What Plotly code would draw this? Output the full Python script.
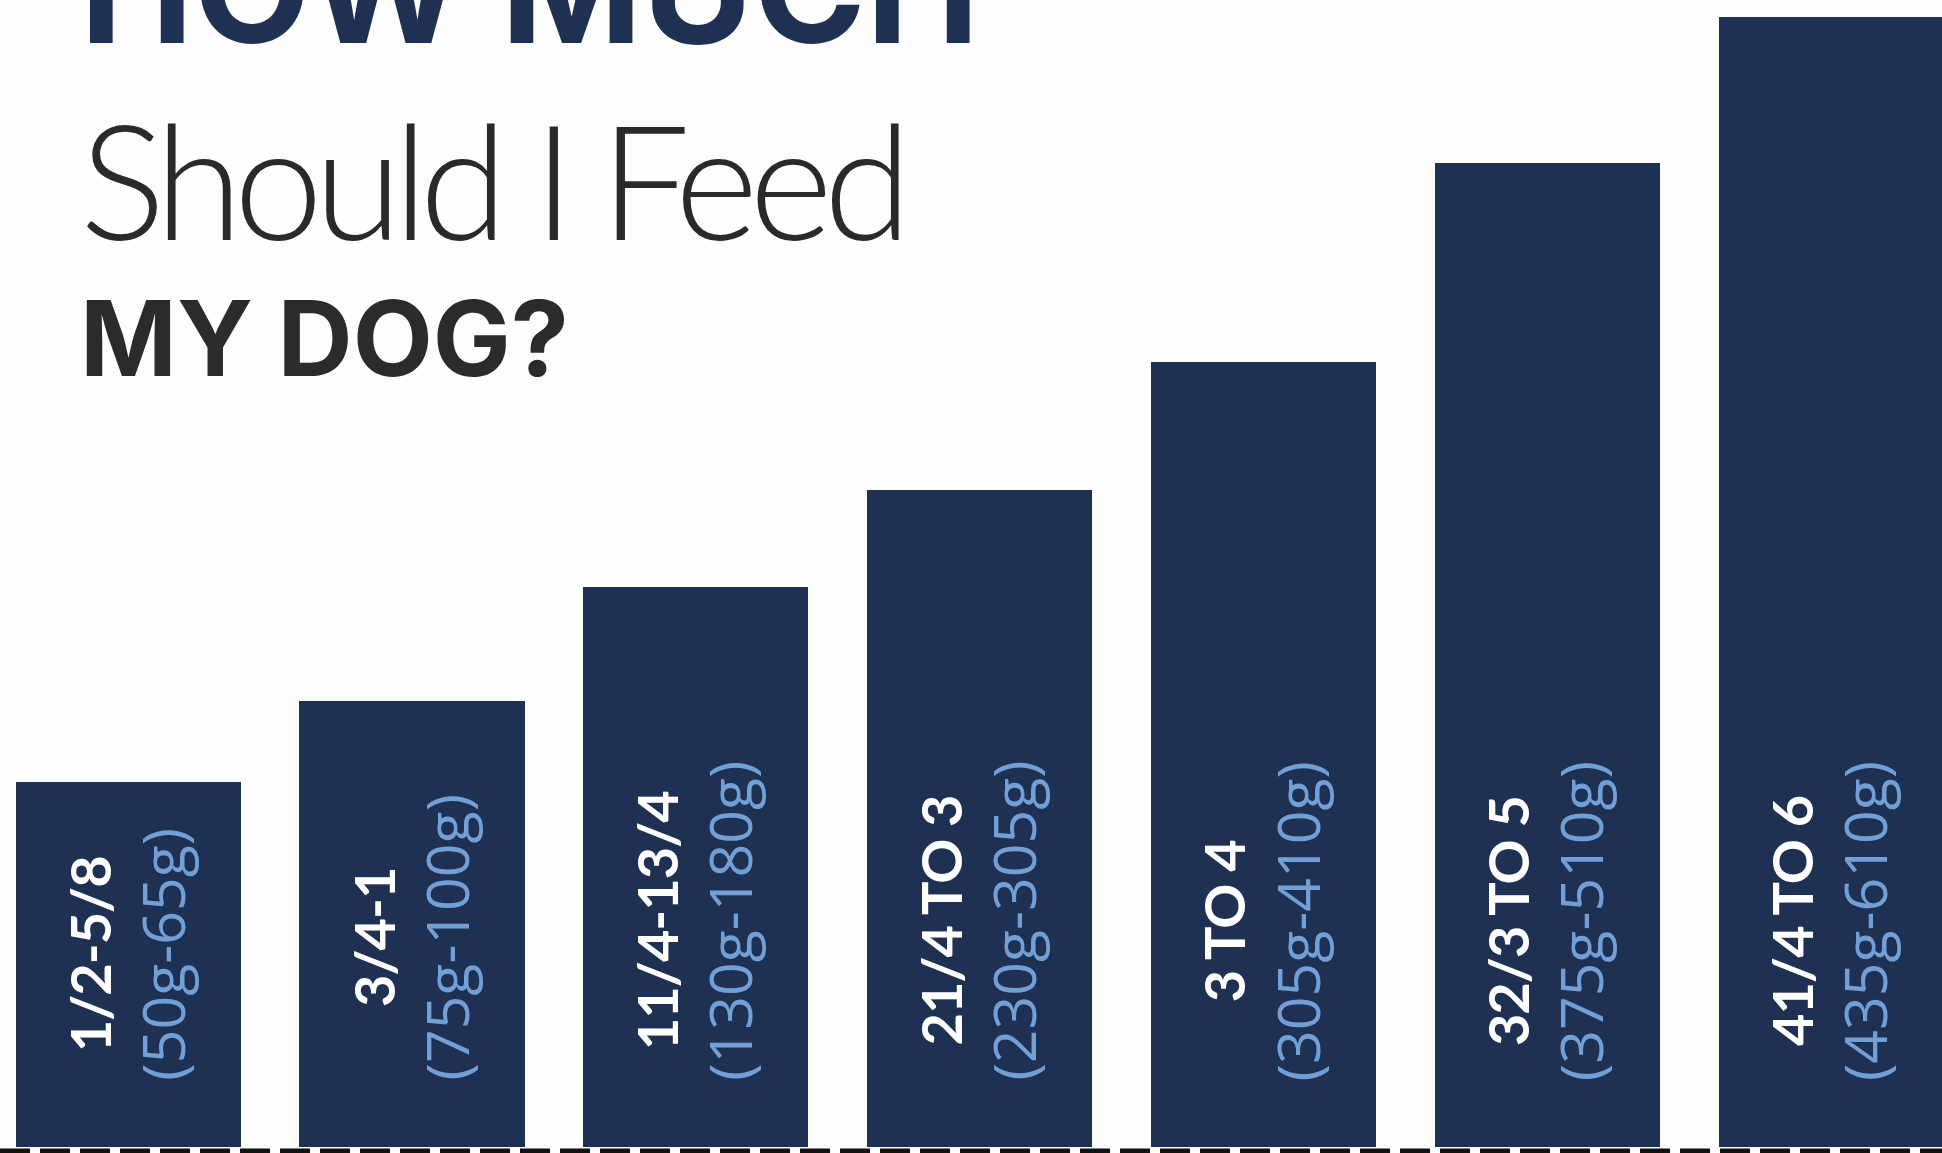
import plotly.graph_objects as go

# ---- data ----
cups = ["1/2-5/8", "3/4-1", "11/4-13/4", "21/4 TO 3", "3 TO 4", "32/3 TO 5", "41/4 TO 6"]
grams = ["(50g-65g)", "(75g-100g)", "(130g-180g)", "(230g-305g)",
         "(305g-410g)", "(375g-510g)", "(435g-610g)"]
bar_heights = [365, 446, 560, 657, 785, 984, 1130]  # relative bar heights

NAVY = "#1e3153"
LIGHT_BLUE = "#72a0d6"
W, H = 1942, 1153
B_MARGIN = 6
PLOT_H = H - B_MARGIN

xs = list(range(len(cups)))

fig = go.Figure()
fig.add_trace(go.Bar(
    x=xs, y=bar_heights, width=0.793,
    marker=dict(color=NAVY, line=dict(width=0)),
    hoverinfo="skip", showlegend=False,
))

# labels inside the bars (rotated)
for x, c, g in zip(xs, cups, grams):
    fig.add_annotation(
        x=x, y=64, xref="x", yref="y",
        text=(f"<span style='font-family:Lato;font-size:56px;font-weight:900;color:#ffffff;letter-spacing:-1px'><b>{c}</b></span>"
              f"<br><span style='font-family:Open Sans;font-size:59px;color:{LIGHT_BLUE}'>{g}</span>"),
        textangle=-90, xanchor="center", yanchor="bottom",
        showarrow=False, align="center",
        font=dict(family="Open Sans", size=57, color=LIGHT_BLUE),
    )

def py(p):
    return (PLOT_H - p) / PLOT_H

# title block
fig.add_annotation(x=78 / W, y=py(82), xref="paper", yref="paper",
                   text="<b>HOW MUCH</b>", showarrow=False,
                   xanchor="left", yanchor="bottom",
                   font=dict(family="Inter", size=152, color=NAVY, weight=900))
fig.add_annotation(x=78 / W, y=py(276), xref="paper", yref="paper",
                   text="<span style='letter-spacing:-9px'>Should I Feed</span>", showarrow=False,
                   xanchor="left", yanchor="bottom",
                   font=dict(family="Lato", size=160, color="#2a2a2a", weight=300))
fig.add_annotation(x=78 / W, y=py(403), xref="paper", yref="paper",
                   text="<b>MY DOG?</b>", showarrow=False,
                   xanchor="left", yanchor="bottom",
                   font=dict(family="Inter", size=104, color="#2b2b2b", weight=900))

# dashed base line
fig.add_shape(type="line", xref="paper", yref="paper",
              x0=0, x1=1, y0=-4 / PLOT_H, y1=-4 / PLOT_H,
              line=dict(color="#111111", width=5, dash="30px,10px"))

fig.update_layout(
    width=W, height=H,
    margin=dict(l=0, r=0, t=0, b=B_MARGIN, pad=0),
    paper_bgcolor="#fdfdfd", plot_bgcolor="#fdfdfd",
    xaxis=dict(range=[-0.4517, 6.391], visible=False, fixedrange=True),
    yaxis=dict(range=[0, PLOT_H], visible=False, fixedrange=True),
    bargap=0,
)

fig.write_html("out.html", config={"displayModeBar": False},
               post_script="document.body.style.margin='0';document.body.style.overflow='hidden';")
